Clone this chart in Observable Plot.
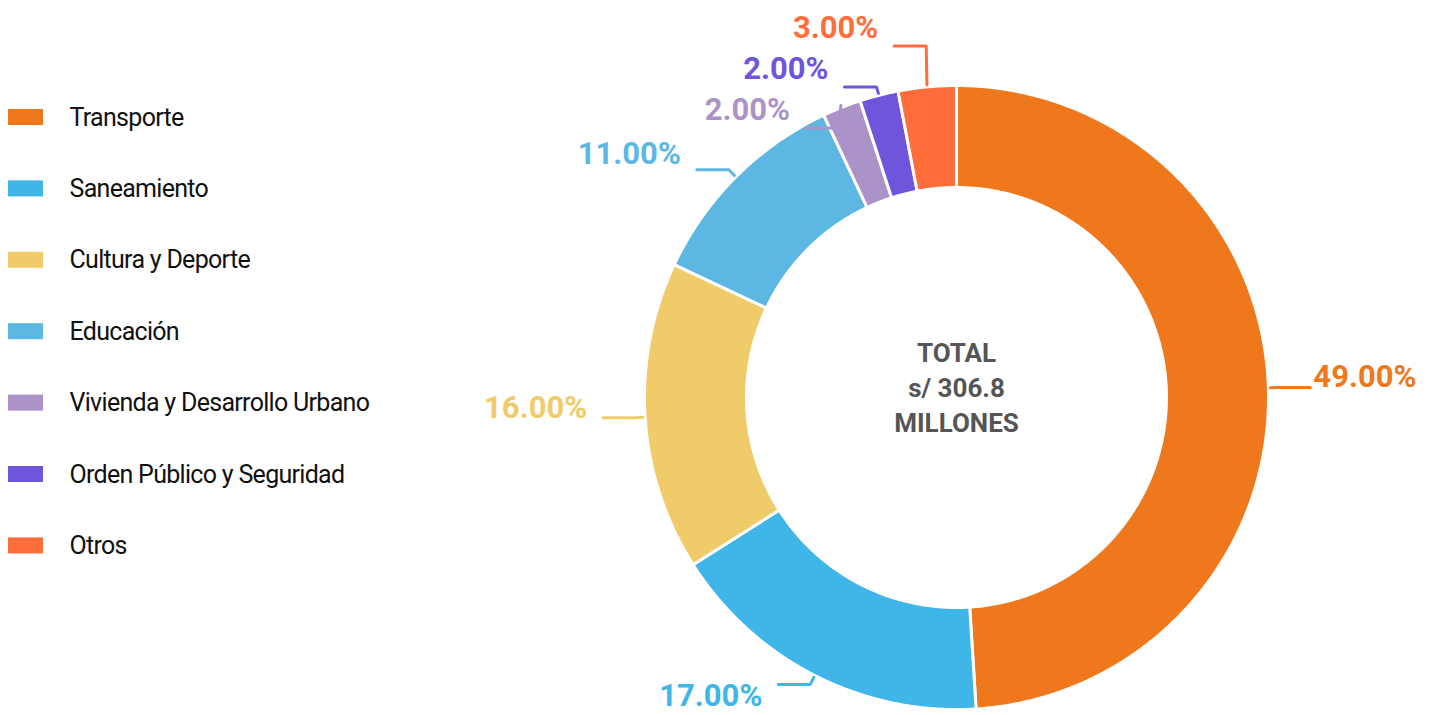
<!DOCTYPE html>
<html>
<head>
<meta charset="utf-8">
<script src="https://cdn.jsdelivr.net/npm/d3@7"></script>
<script src="https://cdn.jsdelivr.net/npm/@observablehq/plot@0.6"></script>
<style>
  html, body { margin: 0; padding: 0; background: #fff; }
  svg { display: block; }
</style>
</head>
<body>
<script>
// ---- data ----
const categories = ["Transporte", "Saneamiento", "Cultura y Deporte", "Educación", "Vivienda y Desarrollo Urbano", "Orden Público y Seguridad", "Otros"];
const shares = [49, 17, 16, 11, 2, 2, 3];
const colors = ["#EF771C", "#3FB5E8", "#EFCB69", "#5DB7E3", "#AC93C7", "#6E55DB", "#FF6D3A"];
const centerLines = ["TOTAL", "s/ 306.8", "MILLONES"];

// ---- layout ----
const W = 1429, H = 715;
const cx = 956, cy = 397, R = 312, R0 = 210;
const polar = (rad, a) => [cx + rad * Math.sin(a), cy - rad * Math.cos(a)];

const rows = categories.map((c, i) => ({category: c, value: shares[i], index: i}));
const arcs = d3.pie().sort(null).value(d => d.value)(rows);

// ring polygons
const ring = [];
arcs.forEach(p => {
  const n = Math.max(2, Math.ceil((p.endAngle - p.startAngle) / 0.01));
  const pts = [];
  for (let k = 0; k <= n; k++) pts.push(polar(R, p.startAngle + (p.endAngle - p.startAngle) * k / n));
  for (let k = n; k >= 0; k--) pts.push(polar(R0, p.startAngle + (p.endAngle - p.startAngle) * k / n));
  pts.push(pts[0]);
  pts.forEach(([x, y]) => ring.push({category: p.data.category, x, y}));
});

// labels with simple collision relaxation
const labels = arcs.map(p => {
  const a = (p.startAngle + p.endAngle) / 2;
  const side = Math.sin(a) >= 0 ? 1 : -1;
  const [x0, y0] = polar(R + 2, a);
  const [ex, ey] = polar(R + 10, a);
  return {category: p.data.category, value: p.data.value, a, side, x0, y0, ex, ly: ey};
});
const gap = 41;
[-1, 1].forEach(s => {
  const g = labels.filter(l => l.side === s).sort((a, b) => a.ly - b.ly);
  for (let it = 0; it < 300; it++) {
    for (let i = 1; i < g.length; i++) {
      const d = g[i].ly - g[i - 1].ly;
      if (d < gap) { const m = (gap - d) / 2; g[i].ly += m; g[i - 1].ly -= m; }
    }
  }
});
const L = 32;
const leaders = [];
labels.forEach(l => {
  leaders.push({category: l.category, x: l.x0, y: l.y0});
  leaders.push({category: l.category, x: l.ex, y: l.ly});
  leaders.push({category: l.category, x: l.ex + l.side * L, y: l.ly});
  l.tx = l.ex + l.side * (L + (l.side > 0 ? 3 : 16));
  const c = Math.cos(l.a);
  l.ty = c < -0.5 ? l.ly + 12 : l.ly - 10 - 8 * Math.max(0, c);
});

const legendStep = 71.4, legendTop = 117;

const chart = Plot.plot({
  width: W, height: H,
  margin: 0,
  x: {domain: [0, W], range: [0, W], axis: null},
  y: {domain: [0, H], range: [0, H], axis: null},
  color: {type: "ordinal", domain: categories, range: colors},
  style: {fontFamily: "Roboto, 'Noto Sans', sans-serif", background: "#fff", overflow: "visible"},
  marks: [
    Plot.line(ring, {x: "x", y: "y", z: "category", fill: "category", stroke: "#fff", strokeWidth: 3, strokeLinejoin: "miter", curve: "linear"}),
    Plot.line(leaders, {x: "x", y: "y", z: "category", stroke: "category", strokeWidth: 3, strokeLinejoin: "miter"}),
    Plot.text(labels.filter(l => l.side > 0), {x: "tx", y: "ty", text: d => d.value.toFixed(2) + "%", fill: "category", textAnchor: "start", fontSize: 31, fontWeight: "bold"}),
    Plot.text(labels.filter(l => l.side < 0), {x: "tx", y: "ty", text: d => d.value.toFixed(2) + "%", fill: "category", textAnchor: "end", fontSize: 31, fontWeight: "bold"}),
    Plot.text(centerLines, {x: () => cx, y: (d, i) => cy - 9 + (i - 1) * 35, text: d => d, fill: "#555", fontSize: 26, fontWeight: "bold", textAnchor: "middle"}),
    Plot.rect(rows, {x1: () => 8, x2: () => 43, y1: d => legendTop + d.index * legendStep - 8, y2: d => legendTop + d.index * legendStep + 8, fill: "category"}),
    Plot.text(rows, {x: () => 69, y: d => legendTop + d.index * legendStep, text: "category", fill: "#111", fontSize: 25, textAnchor: "start"})
  ]
});
d3.select(chart).selectAll("text").filter(function() { return categories.includes(this.textContent); }).attr("letter-spacing", "-0.7px");
document.body.appendChild(chart);
</script>
</body>
</html>
